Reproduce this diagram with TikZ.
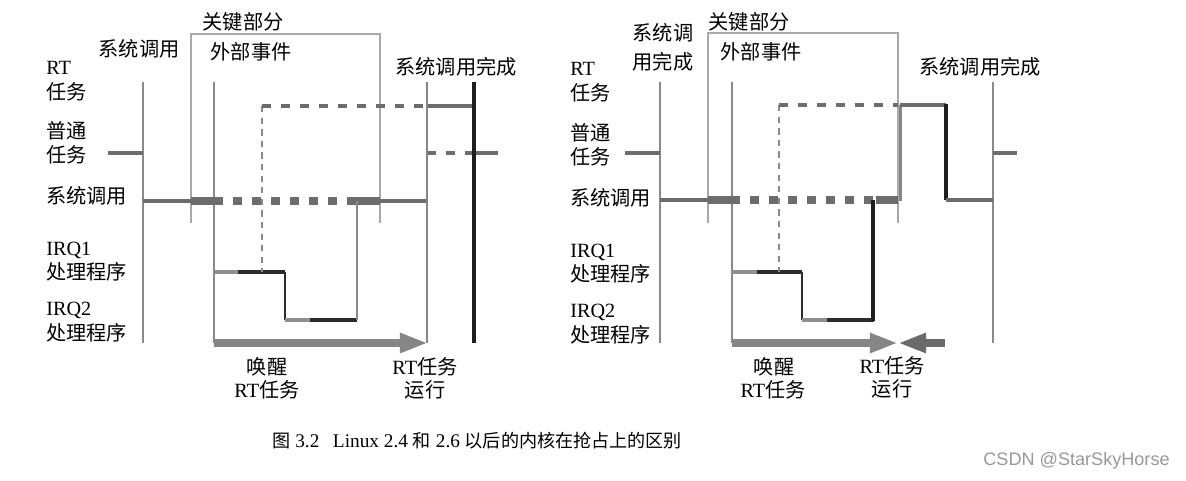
\documentclass[tikz,border=0pt]{standalone}
\usepackage{fontspec}
\setmainfont{Liberation Serif}
\newfontfamily\cjk{Noto Sans CJK SC}
\newfontfamily\wmfont{Liberation Sans}
\newcommand\zh[1]{{\cjk #1}}
\usetikzlibrary{arrows.meta}
\definecolor{cbox}{HTML}{A8A8A8}
\definecolor{cthin}{HTML}{8A8A8A}
\definecolor{cmid}{HTML}{6C6C6C}
\definecolor{clight}{HTML}{8E8E8E}
\definecolor{cdark}{HTML}{2C2C2C}
\definecolor{cblack}{HTML}{1E1E1E}
\definecolor{carrow}{HTML}{868686}
\definecolor{carrowb}{HTML}{6A6A6A}
\tikzset{
  lbl/.style={inner sep=0pt, anchor=west, font=\fontsize{11.5}{13}\selectfont},
  lblc/.style={inner sep=0pt, font=\fontsize{11.5}{13}\selectfont},
  boxline/.style={draw=cbox, line width=0.9pt},
  thinv/.style={draw=cthin, line width=0.8pt},
  normalline/.style={draw=cmid, line width=2.8pt},
  midline/.style={draw=cmid, line width=1.8pt},
  thickline/.style={draw=cmid, line width=4pt},
  thickdots/.style={draw=cmid, line width=4pt, dash pattern=on 5.1pt off 5.67pt},
  irqlight/.style={draw=clight, line width=2pt},
  irqdark/.style={draw=cdark, line width=2pt},
  irqv/.style={draw=cdark, line width=1pt},
  taskdash/.style={draw=cmid, line width=2.3pt, dash pattern=on 5pt off 5.8pt},
  rtline/.style={draw=cmid, line width=2.8pt},
  heavyv/.style={draw=carrow, line width=1.7pt},
  blackv/.style={draw=cblack, line width=1.8pt},
  thindash/.style={draw=cthin, line width=0.9pt, dash pattern=on 3.6pt off 3pt},
  bigarrow/.style={draw=carrow, line width=4pt, -{Triangle[length=16pt,width=10.5pt]}},
  bigarrowb/.style={draw=carrowb, line width=4pt, -{Triangle[length=16pt,width=10.5pt]}},
}
\begin{document}
\begin{tikzpicture}[x=0.02cm,y=-0.02cm]
\useasboundingbox[fill=white] (0,0) rectangle (1186,480);

%%%%%%%%%%%%%%%% LEFT DIAGRAM %%%%%%%%%%%%%%%%
% row labels
\node[lbl] (l1) at (46,68) {RT};
\node[lbl] (l2) at (46,92) {\zh{任务}};
\node[lbl] (l3) at (46,131) {\zh{普通}};
\node[lbl] (l4) at (46,155) {\zh{任务}};
\node[lbl] (l5) at (46,196) {\zh{系统调用}};
\node[lbl] (l6) at (46,250) {IRQ1};
\node[lbl] (l7) at (46,272) {\zh{处理程序}};
\node[lbl] (l8) at (46,310) {IRQ2};
\node[lbl] (l9) at (46,333) {\zh{处理程序}};
% top labels
\node[lblc] (lt1) at (139,49) {\zh{系统调用}};
\node[lblc] (lt2) at (243,22) {\zh{关键部分}};
\node[lblc] (lt3) at (251,52) {\zh{外部事件}};
\node[lblc] (lt4) at (456,67) {\zh{系统调用完成}};
% bottom labels
\node[lblc] (lb1) at (267,367) {\zh{唤醒}};
\node[lblc] (lb2) at (267,390) {RT\zh{任务}};
\node[lblc] (lb3) at (425,367) {RT\zh{任务}};
\node[lblc] (lb4) at (425,390) {\zh{运行}};

% critical section box
\draw[boxline] (191,223) -- (191,34) -- (380,34) -- (380,223);
% verticals
\draw[thinv] (143,82) -- (143,343);
\draw[thinv] (214,82) -- (214,343);
% normal task
\draw[normalline] (108,153) -- (143,153);
% system call
\draw[midline] (143,201) -- (191,201);
\draw[thickline] (191,201) -- (223,201);
\draw[thickdots] (233,201) -- (338,201);
\draw[thickline] (347,201) -- (380,201);
\draw[midline] (380,201) -- (427,201);
% IRQ handlers
\draw[irqlight] (214,272) -- (238,272);
\draw[irqdark] (238,272) -- (285,272);
\draw[irqv] (285,272) -- (285,320);
\draw[irqlight] (285,320) -- (310,320);
\draw[irqdark] (310,320) -- (357,320);
\draw[thinv] (357,320) -- (357,201);
% RT task wake-up (dashed)
\draw[thindash] (262,106) -- (262,272);
\draw[taskdash] (262,106) -- (427,106);
\draw[rtline] (427,106) -- (474,106);
\draw[taskdash] (427,153) -- (474,153);
\draw[normalline] (474,153) -- (498,153);
\draw[heavyv] (427,82) -- (427,343);
\draw[blackv] (474,82) -- (474,343);
% arrow
\draw[bigarrow] (214,343) -- (428,343);

%%%%%%%%%%%%%%%% RIGHT DIAGRAM %%%%%%%%%%%%%%%%
\node[lbl] (r1) at (570,69) {RT};
\node[lbl] (r2) at (570,93) {\zh{任务}};
\node[lbl] (r3) at (570,133) {\zh{普通}};
\node[lbl] (r4) at (570,157) {\zh{任务}};
\node[lbl] (r5) at (570,198) {\zh{系统调用}};
\node[lbl] (r6) at (570,252) {IRQ1};
\node[lbl] (r7) at (570,274) {\zh{处理程序}};
\node[lbl] (r8) at (570,312) {IRQ2};
\node[lbl] (r9) at (570,335) {\zh{处理程序}};
\node[lblc] (rt1a) at (663,33) {\zh{系统调}};
\node[lblc] (rt1b) at (663,62) {\zh{用完成}};
\node[lblc] (rt2) at (749,22) {\zh{关键部分}};
\node[lblc] (rt3) at (761,52) {\zh{外部事件}};
\node[lblc] (rt4) at (980,67) {\zh{系统调用完成}};
\node[lblc] (rb1) at (774,367) {\zh{唤醒}};
\node[lblc] (rb2) at (773,390) {RT\zh{任务}};
\node[lblc] (rb3) at (892,366) {RT\zh{任务}};
\node[lblc] (rb4) at (892,389) {\zh{运行}};

\draw[boxline] (708,223) -- (708,33) -- (898,33) -- (898,223);
\draw[thinv] (660,82) -- (660,343);
\draw[thinv] (732,82) -- (732,343);
\draw[thinv] (993,82) -- (993,343);
\draw[normalline] (625,153) -- (660,153);
\draw[normalline] (993,153) -- (1017,153);
\draw[midline] (660,200) -- (708,200);
\draw[thickline] (708,200) -- (740,200);
\draw[thickdots] (750,200) -- (874,200);
\draw[thickline] (876,200) -- (898,200);
% IRQ handlers
\draw[irqlight] (732,272) -- (757,272);
\draw[irqdark] (757,272) -- (802,272);
\draw[irqv] (802,272) -- (802,320);
\draw[irqlight] (802,320) -- (827,320);
\draw[irqdark] (827,320) -- (874,320);
\draw[blackv] (873,321) -- (873,200);
% RT task
\draw[thindash] (779,105) -- (779,272);
\draw[taskdash] (779,105) -- (898,105);
\draw[heavyv] (900,201) -- (900,105);
\draw[rtline] (900,105) -- (946,105);
\draw[blackv] (946,104) -- (946,200);
\draw[midline] (946,200) -- (993,200);
% arrows
\draw[bigarrow] (732,343) -- (898,343);
\draw[bigarrowb] (945,343) -- (898,343);

%%%%%%%%%%%%%%%% CAPTION %%%%%%%%%%%%%%%%
\node[inner sep=0pt, anchor=west] (cap) at (272,441)
  {\fontsize{11}{13}\selectfont{\cjk\fontsize{10.3}{13}\selectfont 图} 3.2\hspace{0.7em}Linux 2.4 {\cjk\fontsize{10.3}{13}\selectfont 和} 2.6 {\cjk\fontsize{10.3}{13}\selectfont 以后的内核在抢占上的区别}};
\node[inner sep=0pt, anchor=west, text=black!40] (wm) at (983,461)
  {\wmfont\fontsize{10.3}{12}\selectfont CSDN @StarSkyHorse};
\end{tikzpicture}
\end{document}
